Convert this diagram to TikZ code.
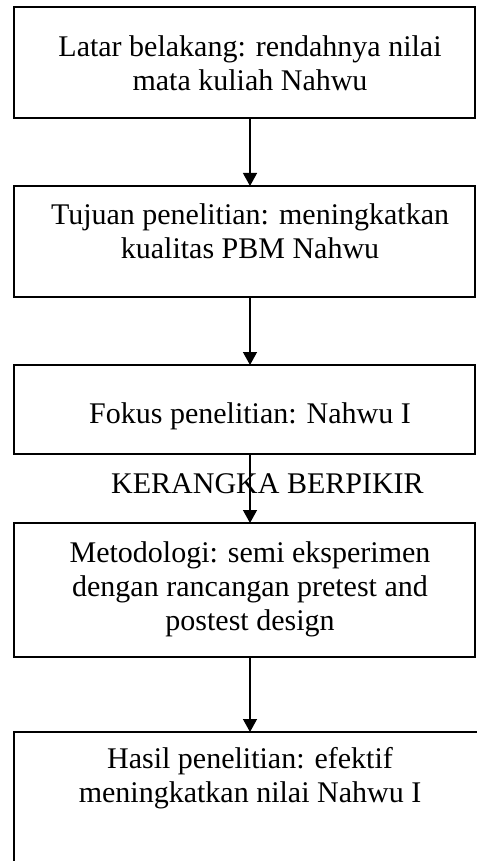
\documentclass[tikz,border=0pt]{standalone}
\usepackage{fontspec}
\setmainfont{Liberation Serif}
\usetikzlibrary{arrows.meta}
\begin{document}
\begin{tikzpicture}[x=1pt,y=-1pt,
  box/.style={draw=black,line width=1.6pt,minimum width=461pt,inner sep=0pt,outer sep=0pt},
  txt/.style={inner sep=0pt,outer sep=0pt,anchor=base,font=\fontsize{30}{34}\selectfont},
  conn/.style={line width=1.3pt,-{Triangle[width=14pt,length=13pt]}}]
\useasboundingbox (0,0) rectangle (476,861);
\node[box,minimum height=111pt] (b1) at (244.5,62.5) {};
\node[box,minimum height=111pt] (b2) at (244.5,241.5) {};
\node[box,minimum height=89pt] (b3) at (244.5,409.5) {};
\node[box,minimum height=134pt] (b4) at (244.5,590) {};
\node[box,minimum width=480pt,minimum height=180pt] (b5) at (254,822) {};
\node[txt] (t11) at (250,57) {Latar belakang: rendahnya nilai};
\node[txt] (t12) at (250,91) {mata kuliah Nahwu};
\node[txt] (t21) at (250,224) {Tujuan penelitian: meningkatkan};
\node[txt] (t22) at (250,258) {kualitas PBM Nahwu};
\node[txt] (t31) at (250,423) {Fokus penelitian: Nahwu I};
\node[txt] (k) at (267.5,493) {KERANGKA BERPIKIR};
\node[txt] (t41) at (250,562) {Metodologi: semi eksperimen};
\node[txt] (t42) at (250,596) {dengan rancangan pretest and};
\node[txt] (t43) at (250,630) {postest design};
\node[txt] (t51) at (250,768) {Hasil penelitian: efektif};
\node[txt] (t52) at (250,802) {meningkatkan nilai Nahwu I};
\draw[conn] (b1.south -| t12) -- (b2.north -| t12);
\draw[conn] (b2.south -| t12) -- (b3.north -| t12);
\draw[conn] (b3.south -| t12) -- (b4.north -| t12);
\draw[conn] (b4.south -| t12) -- (b5.north -| t12);
\end{tikzpicture}
\end{document}
